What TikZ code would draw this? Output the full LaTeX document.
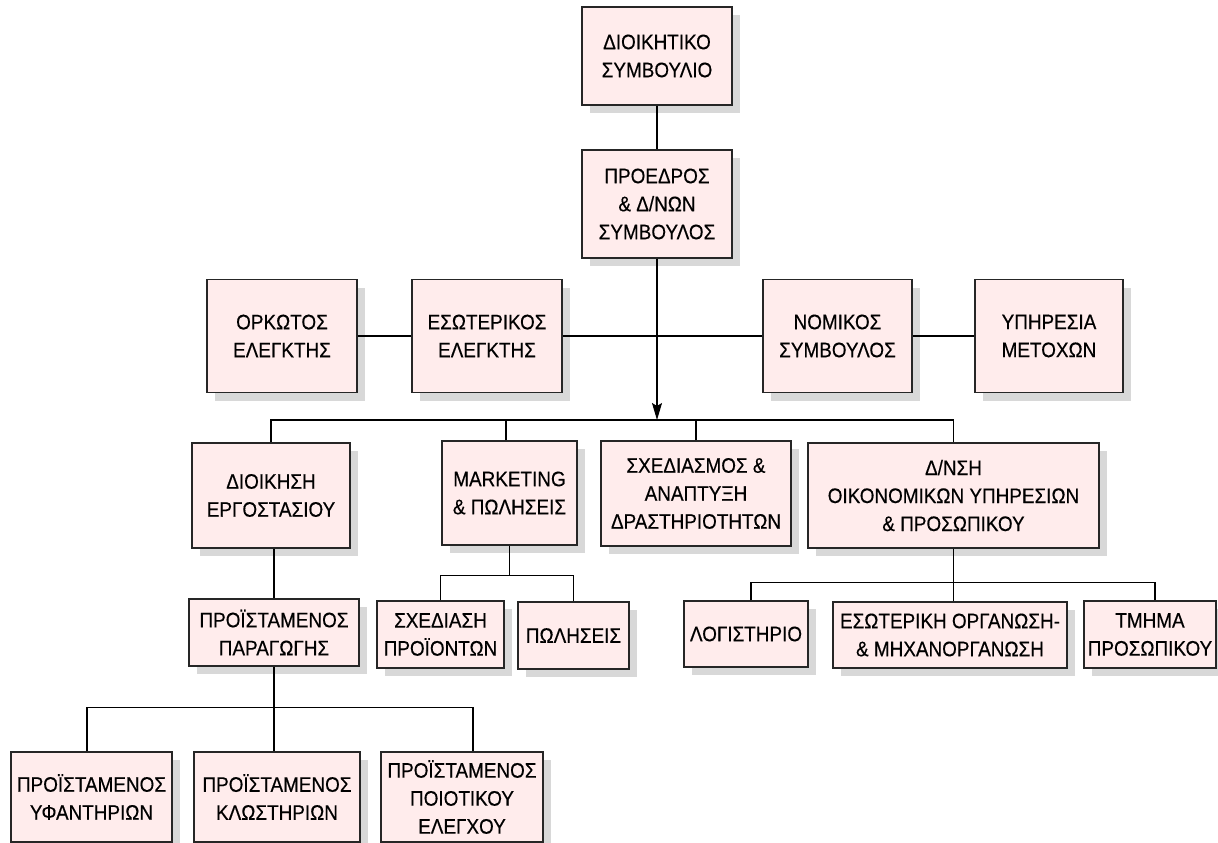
\documentclass[tikz,border=0pt]{standalone}
\usepackage{fontspec}
\newfontfamily\orgfont[FakeStretch=0.9, FakeBold=0.4]{Liberation Sans}
\usetikzlibrary{shadows, arrows.meta}
\definecolor{boxpink}{RGB}{255,236,236}
\definecolor{shadowgray}{RGB}{216,216,216}

\begin{document}
\begin{tikzpicture}[x=1pt, y=-1pt,
  box/.style={draw=black!85, line width=1.2pt, fill=boxpink, align=center, inner sep=0pt,
    font=\orgfont\fontsize{21}{28}\selectfont,
    drop shadow={shadow xshift=8pt, shadow yshift=-8pt, fill=shadowgray, opacity=1}},
  link/.style={line width=1.1pt, draw=black},
  arr/.style={link, -{Stealth[length=17pt, width=10pt, inset=3pt]}}]
  \useasboundingbox (0,0) rectangle (1218,843);

  % Board and chairman
  \node[box, minimum width=150pt, minimum height=98pt] (ds) at (657,56) {ΔΙΟΙΚΗΤΙΚΟ\\ΣΥΜΒΟΥΛΙΟ};
  \node[box, minimum width=150pt, minimum height=108pt] (pr) at (657,204) {ΠΡΟΕΔΡΟΣ\\\& Δ/ΝΩΝ\\ΣΥΜΒΟΥΛΟΣ};

  % Staff row
  \node[box, minimum width=150pt, minimum height=113pt] (oe) at (282,336) {ΟΡΚΩΤΟΣ\\ΕΛΕΓΚΤΗΣ};
  \node[box, minimum width=150pt, minimum height=113pt] (ee) at (487,336) {ΕΣΩΤΕΡΙΚΟΣ\\ΕΛΕΓΚΤΗΣ};
  \node[box, minimum width=149pt, minimum height=113pt] (ns) at (837.5,336) {ΝΟΜΙΚΟΣ\\ΣΥΜΒΟΥΛΟΣ};
  \node[box, minimum width=148pt, minimum height=113pt] (ym) at (1049,336) {ΥΠΗΡΕΣΙΑ\\ΜΕΤΟΧΩΝ};

  % Divisions
  \node[box, minimum width=158pt, minimum height=105pt] (de) at (271,495.5) {ΔΙΟΙΚΗΣΗ\\ΕΡΓΟΣΤΑΣΙΟΥ};
  \node[box, minimum width=135pt, minimum height=104pt] (mp) at (509.5,493) {MARKETING\\\& ΠΩΛΗΣΕΙΣ};
  \node[box, minimum width=190pt, minimum height=105pt] (sa) at (696,493.5) {ΣΧΕΔΙΑΣΜΟΣ \&\\ΑΝΑΠΤΥΞΗ\\ΔΡΑΣΤΗΡΙΟΤΗΤΩΝ};
  \node[box, minimum width=291pt, minimum height=105pt] (do) at (953.5,495.5) {Δ/ΝΣΗ\\ΟΙΚΟΝΟΜΙΚΩΝ ΥΠΗΡΕΣΙΩΝ\\\& ΠΡΟΣΩΠΙΚΟΥ};

  % Sections
  \node[box, minimum width=170pt, minimum height=67pt] (pp) at (274,632.5) {ΠΡΟΪΣΤΑΜΕΝΟΣ\\ΠΑΡΑΓΩΓΗΣ};
  \node[box, minimum width=127pt, minimum height=67pt] (sp) at (440.5,634.5) {ΣΧΕΔΙΑΣΗ\\ΠΡΟΪΟΝΤΩΝ};
  \node[box, minimum width=111pt, minimum height=67pt] (pl) at (573.5,635.5) {ΠΩΛΗΣΕΙΣ};
  \node[box, minimum width=124pt, minimum height=66pt] (lg) at (746,634) {ΛΟΓΙΣΤΗΡΙΟ};
  \node[box, minimum width=234pt, minimum height=66pt] (eo) at (950,635) {ΕΣΩΤΕΡΙΚΗ ΟΡΓΑΝΩΣΗ-\\\& ΜΗΧΑΝΟΡΓΑΝΩΣΗ};
  \node[box, minimum width=132pt, minimum height=67pt] (tp) at (1150,634.5) {ΤΜΗΜΑ\\ΠΡΟΣΩΠΙΚΟΥ};

  % Foremen
  \node[box, minimum width=161pt, minimum height=90pt] (py) at (91.5,797) {ΠΡΟΪΣΤΑΜΕΝΟΣ\\ΥΦΑΝΤΗΡΙΩΝ};
  \node[box, minimum width=166pt, minimum height=90pt] (pk) at (277,797) {ΠΡΟΪΣΤΑΜΕΝΟΣ\\ΚΛΩΣΤΗΡΙΩΝ};
  \node[box, minimum width=162pt, minimum height=90pt] (pq) at (462,797) {ΠΡΟΪΣΤΑΜΕΝΟΣ\\ΠΟΙΟΤΙΚΟΥ\\ΕΛΕΓΧΟΥ};

  % Connectors
  \draw[link] (ds) -- (pr);
  \draw[link] (oe) -- (ee);
  \draw[link] (ee) -- (ns);
  \draw[link] (ns) -- (ym);

  \coordinate (hub) at (657,420);
  \draw[arr] (pr) -- (hub);
  \draw[link] (de.north) |- (hub) -| (do.north);
  \draw[link] ([xshift=-3.5pt]mp.north) -- ([xshift=-3.5pt]mp.north |- hub);
  \draw[link] (sa.north) -- (sa.north |- hub);

  \path (mp.south) ++(0,30) coordinate (mhub);
  \draw[link] (mp.south) -- (mhub);
  \draw[link] (sp.north) |- (mhub) -| (pl.north);

  \draw[link] (pp.north |- de.south) -- (pp.north);

  \draw[link] (do.south) -- (do.south |- eo.north);
  \path (do.south) ++(0,34) coordinate (dhub);
  \draw[link] ([xshift=5pt]lg.north) |- (dhub) -| ([xshift=5pt]tp.north);

  \draw[link] (pp.south) -- (pp.south |- pk.north);
  \path (pp.south) ++(0,41) coordinate (phub);
  \draw[link] ([xshift=-4.5pt]py.north) |- (phub) -| ([xshift=11pt]pq.north);
\end{tikzpicture}
\end{document}
